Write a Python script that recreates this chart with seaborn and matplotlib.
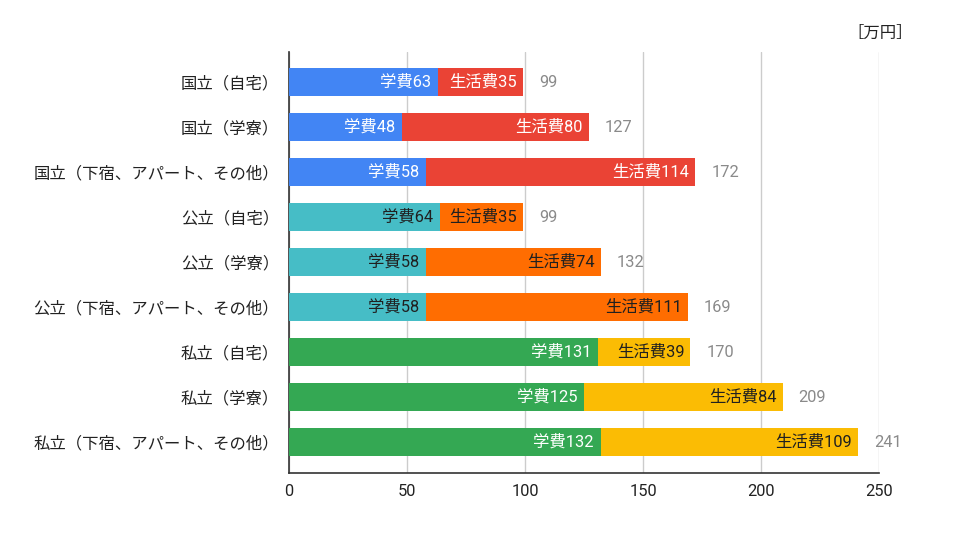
import matplotlib
matplotlib.use("Agg")
import matplotlib.pyplot as plt
import seaborn as sns
import pandas as pd

categories = ["国立（自宅）", "国立（学寮）", "国立（下宿、アパート、その他）",
              "公立（自宅）", "公立（学寮）", "公立（下宿、アパート、その他）",
              "私立（自宅）", "私立（学寮）", "私立（下宿、アパート、その他）"]
tuition = [63, 48, 58, 64, 58, 58, 131, 125, 132]
living = [35, 80, 114, 35, 74, 111, 39, 84, 109]
totals = [99, 127, 172, 99, 132, 169, 170, 209, 241]
xticks = [0, 50, 100, 150, 200, 250]
unit_label = "［万円］"

tuition_colors = ["#4285F4"] * 3 + ["#46BDC6"] * 3 + ["#34A853"] * 3
living_colors = ["#EA4335"] * 3 + ["#FF6D01"] * 3 + ["#FBBC04"] * 3
tuition_text = ["white"] * 3 + ["#202020"] * 3 + ["white"] * 3
living_text = ["white"] * 3 + ["#202020"] * 3 + ["#202020"] * 3

sns.set_theme(style="white")
plt.rcParams["font.family"] = ["Roboto", "Noto Sans CJK JP", "DejaVu Sans"]

df = pd.DataFrame({"cat": categories, "tuition": tuition, "living": living, "total": totals})

fig = plt.figure(figsize=(9.6, 5.4), dpi=100)
ax = fig.add_axes([0.301, 0.124, 0.615, 0.78])

sns.barplot(data=df, x="total", y="cat", hue="cat", palette=living_colors,
            legend=False, width=0.62, dodge=False, ax=ax, order=categories,
            hue_order=categories, saturation=1, linewidth=0, zorder=2)
sns.barplot(data=df, x="tuition", y="cat", hue="cat", palette=tuition_colors,
            legend=False, width=0.62, dodge=False, ax=ax, order=categories,
            hue_order=categories, saturation=1, linewidth=0, zorder=3)

fs = 11.8
for i in range(len(categories)):
    ax.annotate(f"学費{tuition[i]}", xy=(tuition[i], i), xytext=(-7, 0),
                textcoords="offset pixels", ha="right", va="center",
                fontsize=fs, color=tuition_text[i], zorder=5)
    ax.annotate(f"生活費{living[i]}", xy=(totals[i], i), xytext=(-6, 0),
                textcoords="offset pixels", ha="right", va="center",
                fontsize=fs, color=living_text[i], zorder=5)
    ax.annotate(f"{totals[i]}", xy=(totals[i], i), xytext=(16, 0),
                textcoords="offset pixels", ha="left", va="center",
                fontsize=fs, color="#8a8a8a", zorder=5)

ax.set_xlim(0, 250)
ax.set_ylim(8.68, -0.67)
ax.set_xticks(xticks)
ax.set_xticklabels([str(t) for t in xticks])
ax.set_xlabel("")
ax.set_ylabel("")
ax.grid(axis="x", color="#cccccc", linewidth=1, zorder=0)
ax.set_axisbelow(True)
for s in ["top", "right"]:
    ax.spines[s].set_visible(False)
ax.spines["left"].set_color("#333333")
ax.spines["bottom"].set_color("#333333")
ax.spines["left"].set_linewidth(1.2)
ax.spines["bottom"].set_linewidth(1.2)
ax.tick_params(axis="both", length=0, labelsize=fs, labelcolor="#222222")
ax.tick_params(axis="x", pad=8)
ax.tick_params(axis="y", pad=7)

fig.text(880 / 960, 1 - 33 / 540, unit_label, ha="center", va="center",
         fontsize=fs, color="#222222")

fig.savefig("out.png", dpi=100)
